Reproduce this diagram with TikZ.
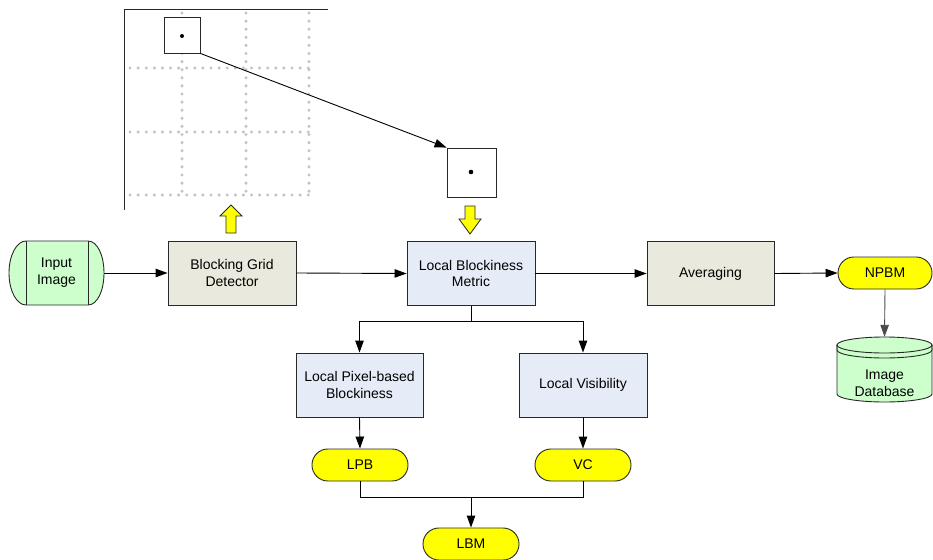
\documentclass[tikz,border=0pt]{standalone}
\usepackage{fontspec}
\setmainfont{Liberation Sans}
\usetikzlibrary{arrows.meta}
\definecolor{lgreen}{RGB}{204,255,204}
\definecolor{beige}{RGB}{233,233,221}
\definecolor{lblue}{RGB}{230,236,247}
\definecolor{yel}{RGB}{255,255,0}
\definecolor{edge}{RGB}{40,40,40}
\definecolor{dotgray}{RGB}{195,195,195}
\tikzset{
  txt/.style={font=\fontsize{14}{16.8}\selectfont, align=center},
  procbox/.style={txt, draw=edge, line width=0.9pt, minimum width=128, minimum height=64, inner sep=0},
  beigebox/.style={procbox, fill=beige},
  bluebox/.style={procbox, fill=lblue},
  pill/.style={txt, draw=edge, line width=0.9pt, fill=yel, minimum width=96, minimum height=32, rounded corners=15.9, inner sep=0},
  conn/.style={line width=0.9pt, -{Triangle[length=12pt,width=8.5pt]}},
  plain/.style={line width=0.9pt},
  gridline/.style={dotgray, line width=3.4pt, line cap=round, dash pattern=on 0pt off 8.1pt},
  blockarrow/.style={fill=yel, draw=edge, line width=0.8pt},
  sq/.style={draw=edge, line width=0.9pt, minimum size=36, inner sep=0},
}
\begin{document}
\begin{tikzpicture}[x=1pt,y=-1pt]
\useasboundingbox (0,0) rectangle (933,559);

% ---- top grid ----
\foreach \x in {182,246,309} \draw[gridline] (\x,13) -- (\x,195);
\foreach \y in {68,132,195} \draw[gridline] (130,\y) -- (309,\y);
\draw[edge, line width=1pt] (328,10) -- (124,10) -- (124,210);
\node[sq, fill=white] (s1) at (182,35) {};
\fill (182,36) circle (2);
\node[sq, minimum size=49, fill=white] (s2) at (471.5,172.5) {};
\fill (471,172) circle (2.3);
\draw[conn] (s1.south east) -- (s2.north west);

% ---- yellow block arrows ----
\draw[blockarrow] (231,205) -- (242,216) -- (236,216) -- (236,233) -- (226,233) -- (226,216) -- (220,216) -- cycle;
\draw[blockarrow] (470,234) -- (481,219) -- (475,219) -- (475,206) -- (465,206) -- (465,219) -- (459,219) -- cycle;

% ---- input image terminal ----
\draw[edge, line width=0.9pt, fill=lgreen]
  (26,241) -- (88,241)
  .. controls (97.4,241) and (104,255.3) .. (104,273)
  .. controls (104,290.7) and (97.4,305) .. (88,305)
  -- (26,305)
  .. controls (16.6,305) and (9,290.7) .. (9,273)
  .. controls (9,255.3) and (16.6,241) .. cycle;
\draw[edge, line width=0.9pt] (26,241) -- (26,305) (88,241) -- (88,305);
\node[txt, minimum width=95, minimum height=64, inner sep=0] (inp) at (56.5,273) {Input\\Image};

% ---- main row ----
\node[beigebox] (bgd) at (232,273) {Blocking Grid\\Detector};
\node[bluebox] (lbmbox) at (471,273.5) {Local Blockiness\\Metric};
\node[beigebox, minimum width=127] (avg) at (710.5,273.5) {Averaging};
\node[pill, minimum width=94] (npbm) at (885,273) {NPBM};

\draw[conn] (inp.east) -- (bgd.west);
\draw[conn] (bgd.east) -- (lbmbox.west);
\draw[conn] (lbmbox.east) -- (avg.west);
\draw[conn] (avg.east) -- (npbm.west);

% ---- database cylinder ----
\draw[edge, line width=0.9pt, fill=lgreen]
  (837,345) -- (837,394)
  .. controls (837,398.4) and (858.3,402) .. (884.5,402)
  .. controls (910.7,402) and (932,398.4) .. (932,394)
  -- (932,345) -- cycle;
\draw[edge, line width=0.9pt, fill=lgreen] (884.5,345) ellipse [x radius=47.5, y radius=8];
\draw[edge, line width=0.9pt]
  (837,345) -- (837,350)
  .. controls (837,354.4) and (858.3,358) .. (884.5,358)
  .. controls (910.7,358) and (932,354.4) .. (932,350) -- (932,345);
\node[minimum width=95, minimum height=65, inner sep=0] (db) at (884.5,369.5) {};
\node[txt] (dbt) at (884.5,383) {Image\\Database};
\draw[conn, draw=black!70] (npbm.south) -- (db.north);

% ---- lower branch ----
\node[bluebox, minimum width=127] (lpbbox) at (359.5,385) {Local Pixel-based\\Blockiness};
\node[bluebox] (lvbox) at (583,385) {Local Visibility};
\node[pill] (lpb) at (360,465) {LPB};
\node[pill] (vc) at (583,465) {VC};
\node[pill] (lbm) at (471,544) {LBM};

\coordinate (sp) at (471,321);
\coordinate (jn) at (471,497);
\draw[plain] (lbmbox.south) -- (sp);
\draw[conn] (sp) -| (lpbbox.north);
\draw[conn] (sp) -| (lvbox.north);
\draw[conn] (lpbbox.south) -- (lpb.north);
\draw[conn] (lvbox.south) -- (vc.north);
\draw[plain] (lpb.south) |- (jn);
\draw[plain] (vc.south) |- (jn);
\draw[conn] (jn) -- (lbm.north);
\end{tikzpicture}
\end{document}
